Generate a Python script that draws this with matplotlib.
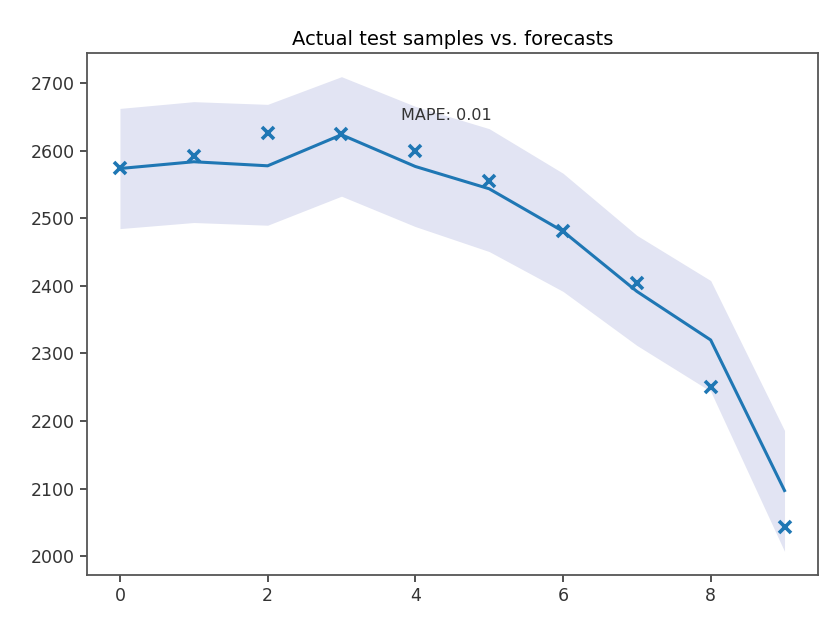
import matplotlib
matplotlib.use("Agg")
import matplotlib.pyplot as plt

# time steps of the test window
steps = list(range(10))

# values
actual = [2575, 2593, 2627, 2625, 2600, 2555, 2482, 2405, 2251, 2043]
forecast = [2574, 2584, 2578, 2624, 2577, 2544, 2481, 2392, 2320, 2097]
upper = [2663, 2673, 2669, 2710, 2666, 2633, 2567, 2475, 2408, 2186]
lower = [2485, 2494, 2490, 2533, 2488, 2451, 2392, 2312, 2244, 2007]
mape = 0.01

plt.rcParams["font.family"] = ["DejaVu Sans"]
plt.rcParams["font.size"] = 12.5

fig, ax = plt.subplots(figsize=(8.26, 6.23), dpi=100)
fig.subplots_adjust(left=0.105, right=0.99, bottom=0.077, top=0.915)

ax.fill_between(steps, lower, upper, color="#e2e4f3", linewidth=0)
ax.plot(steps, forecast, color="#1f77b4", linewidth=2.2)
ax.plot(steps, actual, linestyle="none", marker="x", color="#1f77b4",
        markersize=9, markeredgewidth=2.6)

ax.text(3.8, 2646, f"MAPE: {mape}", fontsize=11.5, color="#333333")
ax.set_title("Actual test samples vs. forecasts", fontsize=14)

for s in ax.spines.values():
    s.set_color("#555555")
    s.set_linewidth(1.3)
ax.tick_params(colors="#333333", length=5, width=1.2)

fig.savefig("out.png", dpi=100)
